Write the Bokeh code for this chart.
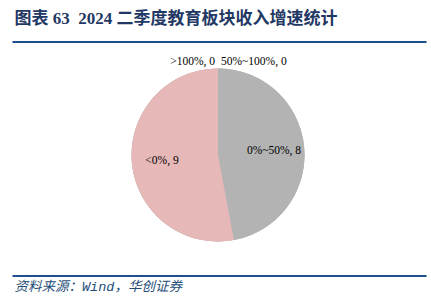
import math
from bokeh.plotting import figure
from bokeh.models import Range1d, Label, ColumnDataSource
from bokeh.core.properties import value
from bokeh.embed import file_html
from bokeh.resources import INLINE

categories = [">100%", "50%~100%", "0%~50%", "<0%"]
counts = [0, 0, 8, 9]
colors = ["#E6B8B7", "#B3B3B3", "#B3B3B3", "#E6B8B7"]
title_text = "图表 63\u00a0\u00a02024 二季度教育板块收入增速统计"
source_text = "资料来源：Wind，华创证券"

W, H = 431, 307
cx, cy, R = 217.5, H - 154.5, 86.5

p = figure(width=W, height=H, output_backend="svg", toolbar_location=None,
           x_range=Range1d(0, W), y_range=Range1d(0, H), min_border=0)
p.axis.visible = False
p.grid.visible = False
p.outline_line_color = None
p.background_fill_color = "white"
p.border_fill_color = "white"

total = sum(counts)
starts, ends, mids = [], [], []
cum = 0.0
for c in counts:
    a0 = cum / total * 2 * math.pi
    cum += c
    a1 = cum / total * 2 * math.pi
    starts.append(math.pi / 2 - a0)
    ends.append(math.pi / 2 - a1)
    mids.append((a0 + a1) / 2)

src = ColumnDataSource(dict(start=starts, end=ends, color=colors, cat=categories))
p.wedge(x=cx, y=cy, radius=R, start_angle="start", end_angle="end",
        direction="clock", fill_color="color", line_color=None, source=src)

serif = "Liberation Serif, Noto Sans CJK SC"
lx, ly, la = [], [], []
for cat, c, m in zip(categories, counts, mids):
    if c == 0:
        continue
    r = 0.65 * R
    lx.append(cx + r * math.sin(m))
    ly.append(cy + r * math.cos(m))
    la.append(f"{cat}, {c}")
p.text(x=lx, y=ly, text=la, text_font=value(serif), text_font_size="11.5px",
       text_align="center", text_baseline="middle", text_color="black")

zx, zy, zt, zal = [], [], [], []
side = -1
for cat, c in zip(categories, counts):
    if c != 0:
        continue
    zx.append(cx + side * 3)
    zy.append(cy + R + 8)
    zt.append(f"{cat}, {c}")
    zal.append("right" if side < 0 else "left")
    side = -side
p.text(x=zx, y=zy, text=zt, text_font=value(serif), text_font_size="11.5px",
       text_align=zal, text_baseline="middle", text_color="black")

p.add_layout(Label(x=14, y=H - 18, text=title_text, text_font=serif,
                   text_font_size="17px", text_font_style="bold",
                   text_color="#1F3864", text_baseline="middle"))
p.add_layout(Label(x=14, y=H - 287, text=source_text,
                   text_font="Liberation Mono, Noto Sans CJK SC",
                   text_font_size="13.5px", text_font_style="italic",
                   text_color="#1F4E79", text_baseline="middle"))

p.line(x=[12, 426], y=[H - 41.5, H - 41.5], line_color="#1F4E8C", line_width=2)
p.line(x=[12, 426], y=[H - 275.5, H - 275.5], line_color="#1F4E8C", line_width=2)

open("out.html", "w").write(file_html(p, INLINE))
